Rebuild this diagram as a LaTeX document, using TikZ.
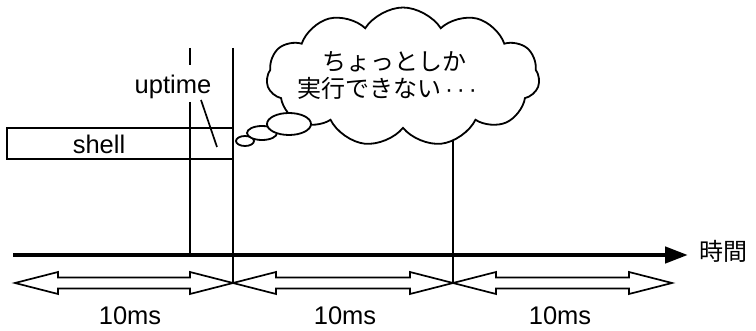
\documentclass[tikz,border=0pt]{standalone}
\usepackage{fontspec}
\setmainfont{Liberation Sans}
\newfontfamily\jpfont{Noto Sans CJK JP}
\usetikzlibrary{shapes.symbols,arrows.meta}
\begin{document}
\begin{tikzpicture}[x=1pt,y=-1pt,
  ln/.style={line width=1.7pt},
  lbl/.style={font=\fontsize{25.5}{30}\selectfont, inner sep=0pt},
  jlbl/.style={font=\jpfont\fontsize{24}{28}\selectfont, inner sep=0pt},
  bubble/.style={draw, line width=1.8pt, fill=white},
  dbl/.style={draw, line width=1.7pt, fill=white, line join=miter}]
\useasboundingbox (0,0) rectangle (756,331);

% coordinates
\coordinate (ax0) at (13,255);
\coordinate (ax1) at (688,255);
\coordinate (a0) at (15,283);
\coordinate (a1) at (233,283);
\coordinate (a2) at (453,283);
\coordinate (a3) at (672,283);
\coordinate (v1top) at (233,48);
\coordinate (v2top) at (453,120);
\coordinate (u0) at (190,102);
\coordinate (u1) at (190,255);
\coordinate (d0) at (190,48);
\coordinate (d1) at (190,65);
\coordinate (p0) at (201,100);
\coordinate (p1) at (217,147);

% vertical lines
\draw[ln] (v1top) -- (a1);
\draw[ln] (v2top) -- (a2);
\draw[ln] (u0) -- (u1);
\draw[ln] (d0) -- (d1);
\draw[ln] (p0) -- (p1);

% shell box
\node[draw, ln, inner sep=0pt, minimum width=226pt, minimum height=31pt] (shellbox) at (120,143.5) {};
\node[lbl, anchor=base] (shell) at (99,154) {shell};
\node[lbl, anchor=base] (uptime) at (173,94) {uptime};

% time axis
\draw[line width=4.5pt, -{Triangle[length=23pt,width=16pt]}] (ax0) -- (ax1);
\node[jlbl] (jikan) at (723,251) {時間};

% double arrows
\foreach \s/\e in {15/233, 233/453, 453/672}{
  \draw[dbl] (\s,283) -- (\s+43,272) -- (\s+43,277.5) -- (\e-43,277.5) -- (\e-43,272)
    -- (\e,283) -- (\e-43,294) -- (\e-43,288.5) -- (\s+43,288.5) -- (\s+43,294) -- cycle;
}
\node[lbl, anchor=base] (t1) at (130,325) {10ms};
\node[lbl, anchor=base] (t2) at (345,325) {10ms};
\node[lbl, anchor=base] (t3) at (560,325) {10ms};

% cloud
\node[cloud, draw, line width=1.8pt, fill=white, cloud puffs=11, cloud puff arc=115,
      cloud ignores aspect, minimum width=273pt, minimum height=139pt, inner sep=0pt] (cl) at (403,77) {};
\draw[bubble] (245,141) ellipse [x radius=9, y radius=5];
\draw[bubble] (262,133) ellipse [x radius=15, y radius=7];
\draw[bubble] (289,124) ellipse [x radius=22, y radius=11];
\node[jlbl] (l1) at (394,62) {ちょっとしか};
\node[jlbl] (l2) at (387,88) {実行できない{\fontspec{Liberation Sans}\,·\,·\,·}};
\end{tikzpicture}
\end{document}
